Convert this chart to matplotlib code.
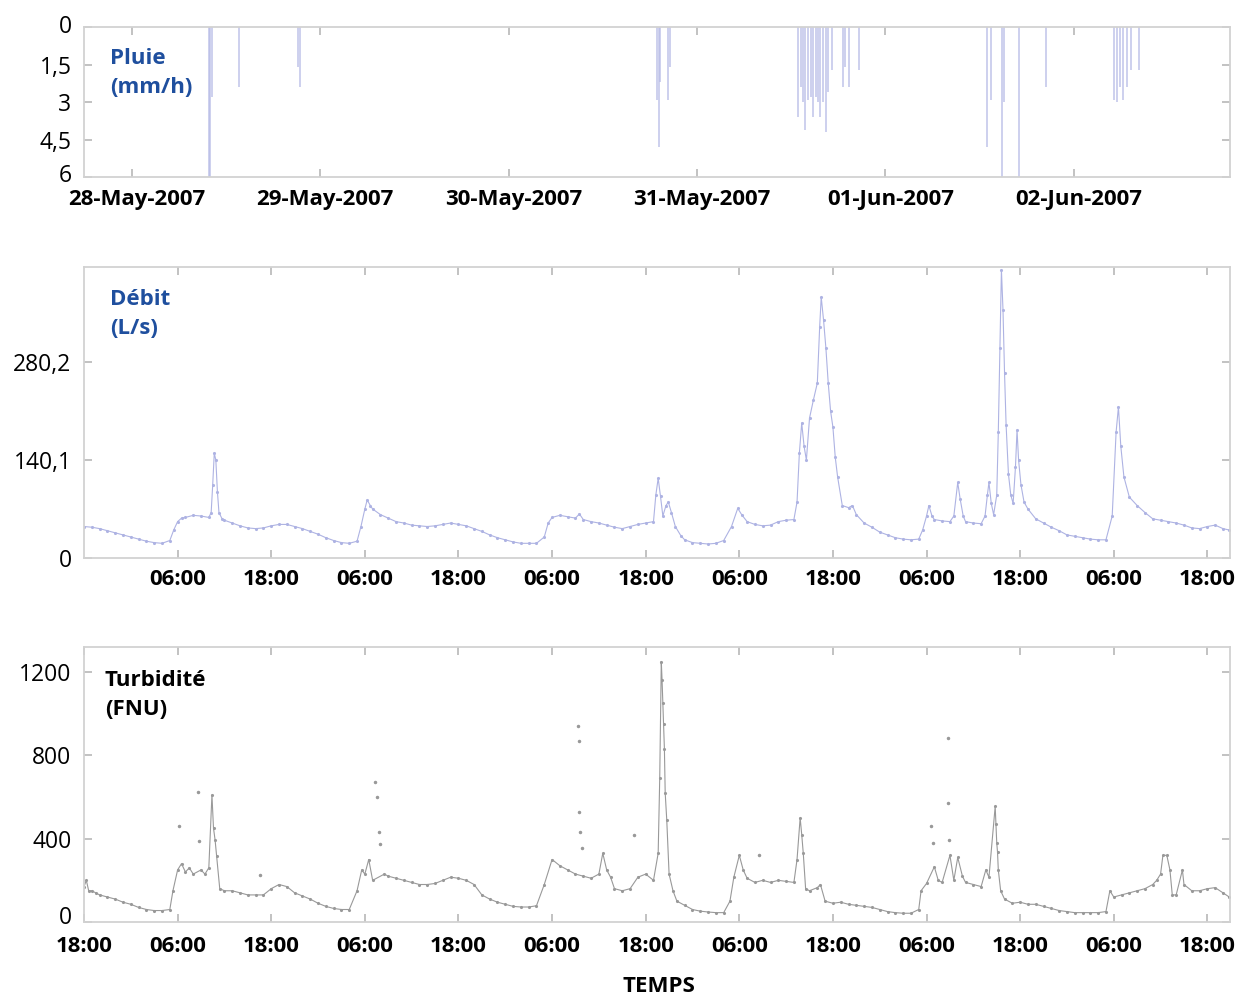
import matplotlib
matplotlib.use("Agg")
import matplotlib.pyplot as plt
import matplotlib.transforms as mtransforms

plt.rcParams['font.family'] = ['Open Sans', 'DejaVu Sans']

# temps en heures depuis le 27-May-2007 18:00
# pluie (mm/h)
rain_t = [15.8, 16.0, 16.2, 19.6, 27.2, 27.4, 72.9, 73.1, 73.3, 74.3, 74.6,
          90.9, 91.2, 91.5, 91.8, 92.2, 92.5, 92.8, 93.1, 93.4, 93.7, 94.0,
          94.4, 94.7, 95.2, 96.6, 96.9, 97.3, 98.6, 115.0, 115.5, 116.8,
          117.1, 119.0, 122.4, 131.1, 131.5, 131.9, 132.3, 132.8, 133.3, 134.3]
rain_v = [6, 6, 2.8, 2.4, 1.6, 2.4, 2.9, 4.8, 2.2, 2.9, 1.6,
          3.6, 2.4, 3.0, 4.1, 2.9, 2.8, 3.6, 2.8, 3.0, 3.6, 3.0,
          4.2, 2.6, 1.7, 2.4, 1.6, 2.4, 1.7, 4.8, 2.9, 6.0,
          3.0, 6.0, 2.4, 2.9, 3.0, 2.4, 2.9, 2.4, 1.7, 1.7]

# debit (L/s)
q_t = [0, 1, 2, 3, 4, 5, 6, 7, 8, 9, 10, 11, 11.5, 12, 12.5, 13, 14, 15, 16,
       16.3, 16.5, 16.7, 16.9, 17.1, 17.3, 17.7, 18, 19, 20, 21, 22, 23, 24,
       25, 26, 27, 28, 29, 30, 31, 32, 33, 34, 35, 35.5, 36, 36.3, 36.7, 37,
       38, 39, 40, 41, 42, 43, 44, 45, 46, 47, 48, 49, 50, 51, 52, 53, 54, 55,
       56, 57, 58, 59, 59.5, 60, 61, 62, 63, 63.5, 64, 65, 66, 67, 68, 69, 70,
       71, 72, 73, 73.3, 73.6, 73.9, 74.2, 74.6, 74.9, 75.3, 75.8, 76.5, 77,
       78, 79, 80, 81, 82, 83, 83.8, 84.3, 85, 86, 87, 88, 89, 90, 91, 91.4,
       91.7, 92, 92.3, 92.6, 93, 93.5, 94, 94.3, 94.5, 94.8, 95.1, 95.4, 95.7,
       96, 96.3, 96.6, 97.2, 98, 98.5, 99, 100, 101, 102, 103, 104, 105, 106,
       107, 107.5, 108, 108.3, 108.7, 109, 110, 111, 111.5, 112, 112.3, 112.7,
       113, 114, 115, 115.5, 115.8, 116, 116.3, 116.6, 117, 117.2, 117.4,
       117.6, 117.8, 118, 118.2, 118.5, 118.8, 119.1, 119.4, 119.6, 119.8,
       120.1, 120.5, 121, 122, 123, 124, 125, 126, 127, 128, 129, 130, 131,
       131.8, 132.3, 132.6, 132.9, 133.3, 134, 135, 136, 137, 138, 139, 140,
       141, 142, 143, 144, 145, 146, 146.8]
q_v = [45, 44, 42, 39, 36, 33, 30, 27, 24, 22, 21, 25, 40, 52, 57, 58, 61, 60, 58,
       65, 105, 150, 140, 95, 65, 56, 54, 50, 46, 43, 42, 43, 46,
       48, 48, 45, 42, 38, 34, 29, 25, 22, 21, 24, 45, 70, 83, 75, 70,
       62, 57, 52, 50, 47, 46, 45, 46, 48, 50, 48, 46, 42, 38, 33, 29, 26, 23,
       21, 21, 21, 30, 50, 58, 61, 59, 57, 63, 55, 52, 50, 47, 44, 42, 45,
       48, 50, 52, 90, 114, 88, 60, 75, 80, 65, 45, 32, 26,
       22, 21, 20, 21, 25, 45, 71, 62, 52, 48, 46, 47, 52, 54, 55, 80,
       150, 193, 160, 140, 200, 226, 250, 330, 373, 340, 300, 250, 210,
       187, 144, 116, 75, 72, 75, 62, 50, 44, 37, 33, 29, 27, 26,
       27, 40, 60, 75, 60, 55, 53, 52, 60, 108, 85, 60,
       52, 50, 49, 60, 90, 108, 78, 62, 90, 180, 300,
       412, 355, 264, 190, 120, 90, 78, 130, 183, 140,
       105, 80, 70, 56, 50, 44, 39, 33, 31, 29, 27, 26, 26,
       60, 180, 216, 160, 116, 87, 75, 65, 56, 54, 52, 50,
       47, 43, 42, 45, 47, 42, 40]

# turbidite (FNU) : trace principale
turb_t = [0, 0.3, 0.6, 1, 1.5, 2, 3, 4, 5, 6, 7, 8, 9, 10, 11, 11.4, 12, 12.5,
          13, 13.5, 14, 15, 15.5, 16, 16.4, 16.6, 16.8, 17, 17.4, 18, 19, 20,
          21, 22, 23, 24, 25, 26, 27, 28, 29, 30, 31, 32, 33, 34, 35, 35.6, 36,
          36.5, 37, 38.5, 39, 40, 41, 42, 43, 44, 45, 46, 47, 48, 49, 50, 51,
          52, 53, 54, 55, 56, 57, 58, 59, 60, 61, 62, 63, 64, 65, 66, 66.5, 67,
          67.5, 68, 69, 70, 71, 72, 73, 73.6, 73.8, 74, 74.1, 74.2, 74.3, 74.4,
          74.5, 74.7, 75, 75.5, 76, 77, 78, 79, 80, 81, 82, 82.8, 83.3, 84,
          84.5, 85, 86, 87, 88, 89, 90, 91, 91.4, 91.8, 92, 92.2, 92.5, 93, 94,
          94.4, 95, 96, 97, 98, 99, 100, 101, 102, 103, 104, 105, 106, 107,
          107.3, 108, 109, 109.5, 110, 111, 111.5, 112, 112.6, 113, 114, 115,
          115.6, 116, 116.8, 116.9, 117, 117.1, 117.2, 117.5, 118, 119, 120,
          121, 122, 123, 124, 125, 126, 127, 128, 129, 130, 131, 131.5, 132,
          133, 134, 135, 136, 137, 137.5, 138, 138.3, 138.8, 139.2, 139.5, 140,
          140.8, 141, 142, 143, 144, 145, 146, 146.8]
turb_v = [170, 200, 150, 150, 140, 130, 120, 110, 95, 85, 70, 60, 55, 55, 60, 150, 250, 280,
          240, 260, 230, 250, 230, 260, 610, 450, 395, 315, 160, 150, 150, 140,
          130, 130, 130, 160, 180, 170, 140, 125, 110, 90, 75, 65, 60, 60, 150, 250, 230,
          300, 200, 230, 220, 210, 200, 190, 180, 180, 185, 200, 215, 210, 200, 180, 130,
          110, 95, 85, 75, 72, 72, 78, 180, 300, 270, 250, 230, 220, 210, 230, 330, 250,
          215, 160, 150, 160, 215, 230, 200, 330, 690, 1250, 1160, 1050, 950, 830,
          620, 490, 230, 150, 100, 80, 60, 52, 48, 45, 45, 100, 215, 320,
          250, 210, 190, 200, 190, 200, 195, 190, 300, 500, 420, 330, 160, 150, 165,
          180, 100, 90, 95, 85, 80, 75, 70, 60, 50, 45, 42, 42, 60,
          150, 185, 265, 200, 190, 320, 200, 310, 220, 190, 180, 170,
          250, 215, 555, 470, 380, 335, 250, 150, 110, 90, 95,
          85, 85, 75, 65, 55, 50, 45, 45, 45, 45, 50, 150, 120,
          130, 140, 150, 160, 180, 200, 230, 320, 320, 250, 130, 130,
          250, 180, 150, 150, 160, 165, 140, 120]
# turbidite : points isoles
turb_out_t = [12.2, 14.6, 14.8, 22.5, 37.3, 37.5, 37.8, 38.0, 63.3, 63.4, 63.5,
              63.6, 63.8, 70.5, 86.5, 108.6, 108.8, 110.7, 110.8, 110.9]
turb_out_v = [460, 625, 390, 225, 670, 600, 430, 375, 940, 870, 530,
              430, 355, 420, 320, 460, 380, 885, 570, 395]

date_ticks = [6, 30, 54, 78, 102, 126]
date_labels = ['28-May-2007', '29-May-2007', '30-May-2007',
               '31-May-2007', '01-Jun-2007', '02-Jun-2007']
hour_ticks = [0, 12, 24, 36, 48, 60, 72, 84, 96, 108, 120, 132, 144]
hour_labels = ['18:00', '06:00'] * 6 + ['18:00']

blue_txt = '#1f4f9e'
spine_c = '#d2d2d2'

fig = plt.figure(figsize=(12.39, 9.96), dpi=100)
W, H = 1239, 996


def make_ax(top, bottom):
    ax = fig.add_axes([84 / W, 1 - bottom / H, (1230 - 84) / W, (bottom - top) / H])
    for s in ax.spines.values():
        s.set_color(spine_c)
        s.set_linewidth(1.3)
    ax.tick_params(direction='in', length=6, width=1.2, color='#b8b8b8',
                   top=True, right=True)
    ax.tick_params(axis='y', labelsize=16.5, pad=9)
    ax.tick_params(axis='x', labelsize=16, pad=8)
    return ax


def shift(label, dx, dy):
    # decalage en pixels (dpi 100)
    label.set_transform(label.get_transform() +
                        mtransforms.ScaledTranslation(dx / 100, dy / 100,
                                                      fig.dpi_scale_trans))


# Pluie
ax1 = make_ax(27, 177.5)
ax1.vlines(rain_t, 0, rain_v, color='#b4b9e6', linewidth=1.1, alpha=0.85)
ax1.set_xlim(-0.1, 145.9)
ax1.set_ylim(6, 0)
ax1.set_yticks([0, 1.5, 3, 4.5, 6])
ax1.set_yticklabels(['0', '1,5', '3', '4,5', '6'])
ax1.set_xticks(date_ticks)
ax1.set_xticklabels(date_labels, fontweight='bold')
for lab in ax1.get_xticklabels():
    shift(lab, 5, 0)
shift(ax1.get_yticklabels()[-1], 0, 4)
shift(ax1.get_yticklabels()[0], 0, 3)
ax1.text(0.023, 0.86, 'Pluie\n(mm/h)', transform=ax1.transAxes, color=blue_txt,
         fontsize=16, fontweight='bold', va='top', linespacing=1.5)

# Debit
ax2 = make_ax(267, 558)
ax2.plot(q_t, q_v, color='#aeb3e3', linewidth=0.8, marker='.', markersize=2.5)
ax2.set_xlim(0, 146.9)
ax2.set_ylim(0, 416)
ax2.set_yticks([0, 140.1, 280.2])
ax2.set_yticklabels(['0', '140,1', '280,2'])
ax2.set_xticks(hour_ticks[1:])
ax2.set_xticklabels(hour_labels[1:], fontweight='bold')
ax2.text(0.023, 0.925, 'Débit\n(L/s)', transform=ax2.transAxes, color=blue_txt,
         fontsize=16, fontweight='bold', va='top', linespacing=1.5)

# Turbidite
ax3 = make_ax(647, 922)
ax3.plot(turb_t, turb_v, color='#999999', linewidth=0.8, marker='.', markersize=2.5)
ax3.plot(turb_out_t, turb_out_v, linestyle='none', color='#999999', marker='.',
         markersize=3)
ax3.set_xlim(0, 146.9)
ax3.set_ylim(0, 1320)
ax3.set_yticks([0, 400, 800, 1200])
ax3.set_xticks(hour_ticks)
ax3.set_xticklabels(hour_labels, fontweight='bold')
ax3.tick_params(axis='x', pad=10)
ax3.text(0.018, 0.915, 'Turbidité\n(FNU)', transform=ax3.transAxes, color='black',
         fontsize=16, fontweight='bold', va='top', linespacing=1.5)
# le "0" du bas est un peu remonte, comme sur l'original
shift(ax3.get_yticklabels()[0], 0, 7)

fig.text(659 / W, 1 - 986 / H, 'TEMPS', ha='center', va='center',
         fontsize=16, fontweight='bold')

fig.savefig('out.png', dpi=100)
